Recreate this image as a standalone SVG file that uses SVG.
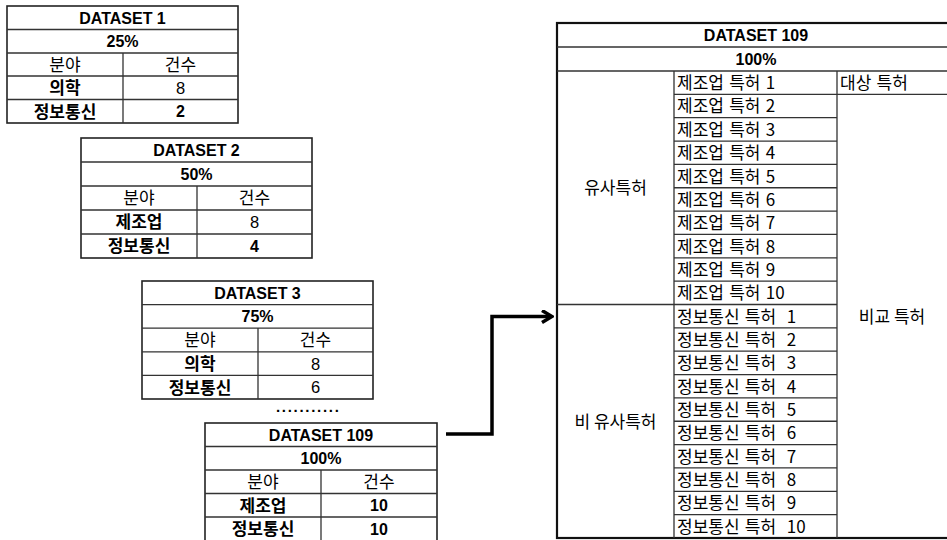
<svg xmlns="http://www.w3.org/2000/svg" width="947" height="540" viewBox="0 0 947 540">
<style>
.bg{fill:#fff}
.cell{fill:none;stroke:#333;stroke-width:1.3}
.outer{fill:none;stroke:#222;stroke-width:1.6}
.bout{fill:none;stroke:#111;stroke-width:2.2}
.lb{font-family:"Liberation Sans","Noto Sans CJK KR",sans-serif;font-weight:bold;font-size:16px;text-anchor:middle;fill:#000}
.ln{font-family:"Liberation Sans","Noto Sans CJK KR",sans-serif;font-size:16.5px;text-anchor:middle;fill:#000}
.kb{font-family:"Noto Sans CJK KR",sans-serif;font-weight:bold;font-size:17px;text-anchor:middle;fill:#000}
.kn{font-family:"Noto Sans CJK KR",sans-serif;font-size:17px;text-anchor:middle;fill:#000}
.kl{font-family:"Noto Sans CJK KR",sans-serif;font-size:17px;word-spacing:1.5px;text-anchor:start;fill:#000}
.dots{font-family:"Liberation Sans",sans-serif;font-weight:bold;font-size:15px;letter-spacing:1.7px;fill:#000}
.conn{fill:none;stroke:#000;stroke-width:3.5}
</style>
<defs>
<marker id="chev" viewBox="0 0 14 14" markerWidth="14" markerHeight="14" refX="10" refY="7" orient="auto" markerUnits="userSpaceOnUse">
<path d="M2,1 L12,7 L2,13" fill="none" stroke="#000" stroke-width="3.5"/>
</marker>
</defs>
<rect class="bg" x="0" y="0" width="947" height="540"/>

<g id="dataset1">
<rect class="outer" x="7" y="6" width="231" height="117"/>
<path class="cell" d="M7,29.5H238M7,53H238M7,76H238M7,99.5H238M123,53V123"/>
<text class="lb" x="122.5" y="23.5">DATASET 1</text>
<text class="lb" x="122.5" y="47">25%</text>
<text class="kn" x="65" y="70.8">분야</text>
<text class="kn" x="180.5" y="70.8">건수</text>
<text class="kb" x="65" y="94.2">의학</text>
<text class="ln" x="180.5" y="93.7">8</text>
<text class="kb" x="65" y="117.6">정보통신</text>
<text class="lb" x="180.5" y="117.2">2</text>
</g>

<g id="dataset2">
<rect class="outer" x="81" y="138" width="231" height="120"/>
<path class="cell" d="M81,162H312M81,186H312M81,210H312M81,234H312M197,186V258"/>
<text class="lb" x="196.5" y="155.8">DATASET 2</text>
<text class="lb" x="196.5" y="179.8">50%</text>
<text class="kn" x="139" y="204.4">분야</text>
<text class="kn" x="254.5" y="204.4">건수</text>
<text class="kb" x="139" y="228.4">제조업</text>
<text class="ln" x="254.5" y="227.9">8</text>
<text class="kb" x="139" y="252.4">정보통신</text>
<text class="lb" x="254.5" y="251.8">4</text>
</g>

<g id="dataset3">
<rect class="outer" x="142" y="281" width="231" height="118"/>
<path class="cell" d="M142,304.6H373M142,328.2H373M142,351.8H373M142,375.4H373M258,328.2V399"/>
<text class="lb" x="257.5" y="298.6">DATASET 3</text>
<text class="lb" x="257.5" y="322.2">75%</text>
<text class="kn" x="200" y="346.4">분야</text>
<text class="kn" x="315.5" y="346.4">건수</text>
<text class="kb" x="200" y="370">의학</text>
<text class="ln" x="315.5" y="369.5">8</text>
<text class="kb" x="200" y="393.6">정보통신</text>
<text class="ln" x="315.5" y="393.1">6</text>
</g>

<text id="ellipsis" class="dots" x="276" y="412">...........</text>

<g id="dataset109-small">
<rect class="outer" x="205" y="423" width="232" height="118"/>
<path class="cell" d="M205,446.5H437M205,470H437M205,493.5H437M205,517H437M321,470V541"/>
<text class="lb" x="321" y="440.6">DATASET 109</text>
<text class="lb" x="321" y="464.1">100%</text>
<text class="kn" x="263" y="488.2">분야</text>
<text class="kn" x="379" y="488.2">건수</text>
<text class="kb" x="263" y="511.7">제조업</text>
<text class="lb" x="379" y="511.1">10</text>
<text class="kb" x="263" y="535.2">정보통신</text>
<text class="lb" x="379" y="534.6">10</text>
</g>

<g id="connectors">
<path class="conn" d="M446,434H492V316.5H550" marker-end="url(#chev)"/>
</g>

<g id="dataset109-detail">
<rect class="bout" x="557" y="23" width="400" height="515"/>
<path class="cell" d="M557,47H957M557,71H957M674,71V538M837,71V538M557,304.5H837M837,94.35H957"/>
<path class="cell" d="M674,94.35H837M674,117.7H837M674,141.05H837M674,164.4H837M674,187.75H837M674,211.1H837M674,234.45H837M674,257.8H837M674,281.15H837M674,327.85H837M674,351.2H837M674,374.55H837M674,397.9H837M674,421.25H837M674,444.6H837M674,467.95H837M674,491.3H837M674,514.65H837"/>
<text class="lb" x="756" y="40.8">DATASET 109</text>
<text class="lb" x="756" y="64.8">100%</text>
<text class="kn" x="615.5" y="193.9">유사특허</text>
<text class="kn" x="615.5" y="427.6">비 유사특허</text>
<text class="kl" x="840" y="89.1">대상 특허</text>
<text class="kn" x="892" y="322.6">비교 특허</text>
<text class="kl" x="677" y="89.1">제조업 특허 1</text>
<text class="kl" x="677" y="112.45">제조업 특허 2</text>
<text class="kl" x="677" y="135.8">제조업 특허 3</text>
<text class="kl" x="677" y="159.15">제조업 특허 4</text>
<text class="kl" x="677" y="182.5">제조업 특허 5</text>
<text class="kl" x="677" y="205.85">제조업 특허 6</text>
<text class="kl" x="677" y="229.2">제조업 특허 7</text>
<text class="kl" x="677" y="252.55">제조업 특허 8</text>
<text class="kl" x="677" y="275.9">제조업 특허 9</text>
<text class="kl" x="677" y="299.25">제조업 특허 10</text>
<text class="kl" x="677" y="322.6">정보통신 특허&#160; 1</text>
<text class="kl" x="677" y="345.95">정보통신 특허&#160; 2</text>
<text class="kl" x="677" y="369.3">정보통신 특허&#160; 3</text>
<text class="kl" x="677" y="392.65">정보통신 특허&#160; 4</text>
<text class="kl" x="677" y="416">정보통신 특허&#160; 5</text>
<text class="kl" x="677" y="439.35">정보통신 특허&#160; 6</text>
<text class="kl" x="677" y="462.7">정보통신 특허&#160; 7</text>
<text class="kl" x="677" y="486.05">정보통신 특허&#160; 8</text>
<text class="kl" x="677" y="509.4">정보통신 특허&#160; 9</text>
<text class="kl" x="677" y="532.75">정보통신 특허&#160; 10</text>
</g>
</svg>
